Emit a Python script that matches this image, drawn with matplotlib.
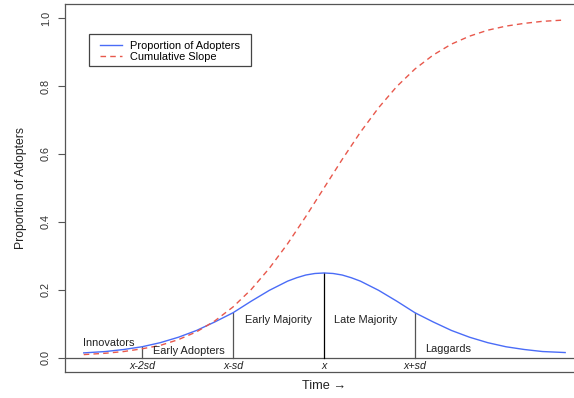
import matplotlib
matplotlib.use("Agg")
import matplotlib.pyplot as plt
from matplotlib.patches import Rectangle

plt.rcParams['font.family'] = ['Liberation Sans', 'DejaVu Sans']

# time in standard-deviation units from the mean
blue_x = [-2.64, -2.4, -2.2, -2.0, -1.8, -1.6, -1.4, -1.2, -1.0, -0.8, -0.6, -0.4, -0.3,
          -0.2, -0.1, 0.0, 0.1, 0.2, 0.3, 0.4, 0.6, 0.8, 1.0, 1.2, 1.4, 1.6, 1.8, 2.0,
          2.2, 2.4, 2.65]
blue_y = [0.015, 0.019, 0.025, 0.033, 0.045, 0.061, 0.081, 0.106, 0.133, 0.167, 0.199, 0.226, 0.236,
          0.244, 0.2485, 0.250, 0.2485, 0.244, 0.236, 0.226, 0.199, 0.167, 0.133, 0.106, 0.081, 0.061, 0.045, 0.033,
          0.025, 0.019, 0.016]

red_x = [-2.64, -2.4, -2.2, -2.0, -1.8, -1.6, -1.4, -1.2, -1.0, -0.8, -0.6, -0.4, -0.2, 0.0,
         0.2, 0.4, 0.6, 0.8, 1.0, 1.2, 1.4, 1.6, 1.8, 2.0, 2.2, 2.4, 2.65]
red_y = [0.010, 0.014, 0.019, 0.027, 0.037, 0.054, 0.077, 0.109, 0.150, 0.2015, 0.264, 0.336, 0.416, 0.500,
         0.584, 0.664, 0.736, 0.7985, 0.850, 0.891, 0.923, 0.9465, 0.964, 0.976, 0.984, 0.990, 0.994]

seg_x = [-2, -1, 0, 1]
seg_top = [0.033, 0.133, 0.250, 0.133]
seg_labels = ["x-2sd", "x-sd", "x", "x+sd"]

region_names = ["Innovators", "Early Adopters", "Early Majority", "Late Majority", "Laggards"]
region_x = [-2.37, -1.49, -0.5, 0.46, 1.36]
region_y = [0.045, 0.022, 0.113, 0.113, 0.026]

yticks = [0.0, 0.2, 0.4, 0.6, 0.8, 1.0]

fig = plt.figure(figsize=(5.74, 3.98), dpi=100)
ax = fig.add_axes([65/574, 26/398, 519/574, 368/398])
ax.set_xlim(-2.846, 2.857)
ax.set_ylim(-0.0412, 1.041)

ax.axhline(0, color='#555555', lw=0.9, zorder=1)
for i, (sx, st) in enumerate(zip(seg_x, seg_top)):
    ax.plot([sx, sx], [0, st], color='black' if sx == 0 else '#555555', lw=0.9, zorder=2)
    ax.text(sx, -0.0235, seg_labels[i], ha='center', va='center', fontsize=7.7,
            style='italic', color='#222222')

ax.plot(blue_x, blue_y, color='#4a6cf7', lw=1.0, label='Proportion of Adopters', zorder=3)
ax.plot(red_x, red_y, color='#e8584c', lw=1.0, ls=(0, (4, 3)), label='Cumulative Slope', zorder=3)

for name, rx, ry in zip(region_names, region_x, region_y):
    ax.text(rx, ry, name, ha='center', va='center', fontsize=7.9, color='#222222')

ax.set_yticks(yticks)
ax.set_yticklabels([f"{v:.1f}" for v in yticks], rotation=90, va='center', fontsize=7.8, color='#333333')
ax.set_xticks([])
ax.tick_params(axis='y', length=5, width=0.8, color='#555555', pad=5)
for s in ['left', 'top', 'bottom']:
    ax.spines[s].set_color('#555555')
    ax.spines[s].set_linewidth(0.9)
ax.spines['right'].set_visible(False)

ax.set_ylabel('Proportion of Adopters', fontsize=8.8, color='#222222', labelpad=10)
ax.set_xlabel('Time \u2192', fontsize=9.2, color='#222222', labelpad=6)

# legend frame (R-style box)
ax.add_patch(Rectangle((0.0462, 0.8315), 0.3122, 0.087, transform=ax.transAxes,
                       fill=False, edgecolor='#444444', lw=0.9, zorder=4))
leg = ax.legend(loc='upper left', bbox_to_anchor=(0.0674, 0.900), borderaxespad=0,
                fontsize=7.9, frameon=False, handlelength=2.0,
                handletextpad=0.75, labelspacing=0.1, borderpad=0.0)

fig.savefig('out.png', dpi=100)
